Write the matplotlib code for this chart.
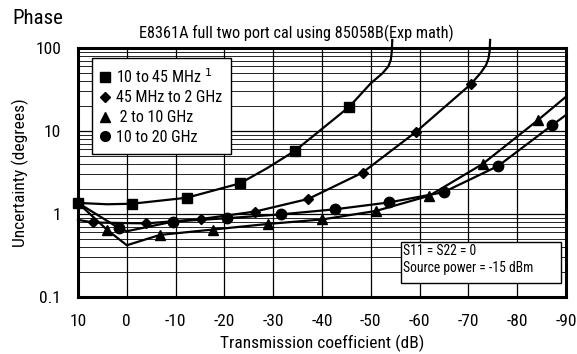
import matplotlib
matplotlib.use("Agg")
import matplotlib.pyplot as plt
from matplotlib.lines import Line2D
from matplotlib.ticker import LogLocator, FixedLocator, NullFormatter, FixedFormatter
from matplotlib.patches import Rectangle

plt.rcParams['font.family'] = ['Liberation Sans Narrow', 'DejaVu Sans Condensed',
                               'Roboto Condensed', 'Liberation Sans', 'DejaVu Sans']

# ---- data ----
labels = ["10 to 45 MHz $^{1}$", "45 MHz to 2 GHz", " 2 to 10 GHz", "10 to 20 GHz"]

sq_x = [10, 4, -1.1, -12.3, -23.2, -28.7, -34.5, -45.6, -50, -52.3, -53.6, -54.1, -54.3, -54.4]
sq_y = [1.36, 1.31, 1.33, 1.57, 2.34, 3.55, 5.8, 19.6, 37.6, 49, 60, 72, 90, 125]
sq_mark = [0, 2, 3, 4, 6, 7]

dia_x = [10, 6.9, -4.0, -15.2, -26.3, -37.2, -48.3, -59.3, -70.5, -72.5, -73.6, -74.1, -74.35, -74.45]
dia_y = [0.85, 0.79, 0.77, 0.87, 1.07, 1.52, 3.15, 9.8, 36.6, 50, 62, 74, 92, 125]
dia_mark = [1, 2, 3, 4, 5, 6, 7, 8]

tri_x = [10, 4.1, 0, -6.8, -17.7, -29, -40.1, -51.1, -62, -72.9, -84.3, -90]
tri_y = [1.36, 0.65, 0.42, 0.56, 0.65, 0.76, 0.86, 1.09, 1.66, 4.0, 13.6, 25.9]
tri_mark = [1, 3, 4, 5, 6, 7, 8, 9, 10]

cir_x = [10, 1.5, 0, -9.5, -20.5, -31.6, -42.7, -53.8, -64.9, -76.1, -87.2, -90]
cir_y = [1.36, 0.67, 0.62, 0.81, 0.89, 0.99, 1.14, 1.38, 1.83, 3.79, 11.8, 15.6]
cir_mark = [1, 3, 4, 5, 6, 7, 8, 9, 10]

x_ticks = [10, 0, -10, -20, -30, -40, -50, -60, -70, -80, -90]
x_ticklabels = ["10", "0", "-10", "-20", "-30", "-40", "-50", "-60", "-70", "-80", "-90"]
y_ticks = [0.1, 1, 10, 100]
y_ticklabels = ["0.1", "1", "10", "100"]

note_lines = ["S11 = S22 = 0", "Source power = -15 dBm"]

# ---- figure ----
fig = plt.figure(figsize=(5.77, 3.54), dpi=100)
W, H = 577, 354
L, R, T, B = 78, 566, 48, 297
ax = fig.add_axes([L / W, 1 - B / H, (R - L) / W, (B - T) / H])

ax.set_yscale('log')
ax.set_xlim(10, -90)
ax.set_ylim(0.1, 100)

ax.xaxis.set_major_locator(FixedLocator(x_ticks))
ax.xaxis.set_major_formatter(FixedFormatter(x_ticklabels))
ax.yaxis.set_major_locator(FixedLocator(y_ticks))
ax.yaxis.set_major_formatter(FixedFormatter(y_ticklabels))
ax.yaxis.set_minor_locator(LogLocator(base=10, subs=range(2, 10)))
ax.yaxis.set_minor_formatter(NullFormatter())

ax.grid(True, which='major', axis='both', color='black', linewidth=0.9)
ax.grid(True, which='minor', axis='y', color='black', linewidth=0.6)
ax.tick_params(which='both', length=0, labelsize=12.5)
ax.tick_params(axis='x', pad=12.5)
ax.tick_params(axis='y', pad=12)
for s in ax.spines.values():
    s.set_linewidth(2.2)
    s.set_zorder(5)

lw = 1.6
common = dict(color='black', linewidth=lw, markerfacecolor='black', markeredgecolor='black', zorder=4)
ax.plot(sq_x, sq_y, marker='s', markersize=7.5, markevery=sq_mark, clip_on=False, **common)
ax.plot(dia_x, dia_y, marker='D', markersize=5.5, markevery=dia_mark, clip_on=False, **common)
ax.plot(tri_x, tri_y, marker='^', markersize=7.5, markevery=tri_mark, **common)
ax.plot(cir_x, cir_y, marker='o', markersize=7.5, markevery=cir_mark, **common)

# legend
handles = [
    Line2D([], [], linestyle='none', marker='s', markersize=6.5, color='black'),
    Line2D([], [], linestyle='none', marker='D', markersize=5, color='black'),
    Line2D([], [], linestyle='none', marker='^', markersize=6.5, color='black'),
    Line2D([], [], linestyle='none', marker='o', markersize=7, color='black'),
]
leg = ax.legend(handles, labels, loc='upper left', bbox_to_anchor=(0.028, 0.959),
                borderaxespad=0, fancybox=False, framealpha=1, edgecolor='black',
                fontsize=11.5, handlelength=0.6, handletextpad=0.4, labelspacing=0.3,
                borderpad=0.55)
leg.get_frame().set_linewidth(1.0)
leg.set_zorder(6)

# note box
ax.add_patch(Rectangle((0.662, 0.057), 0.328, 0.165, transform=ax.transAxes,
                       facecolor='white', edgecolor='black', linewidth=1.0, zorder=6))
ax.text(0.667, 0.186, note_lines[0], transform=ax.transAxes, fontsize=9.8,
        va='center', ha='left', zorder=7)
ax.text(0.667, 0.115, note_lines[1], transform=ax.transAxes, fontsize=9.8,
        va='center', ha='left', zorder=7)

# titles and labels
fig.text(12 / W, 1 - 18 / H, "Phase", fontsize=15, ha='left', va='center')
fig.text(296 / W, 1 - 33 / H, "E8361A full two port cal using 85058B(Exp math)",
         fontsize=11.7, ha='center', va='center')
ax.set_xlabel("Transmission coefficient (dB)", fontsize=12.5, labelpad=4)
ax.set_ylabel("Uncertainty (degrees)", fontsize=12.5, labelpad=5)

fig.savefig("out.png", dpi=100)
